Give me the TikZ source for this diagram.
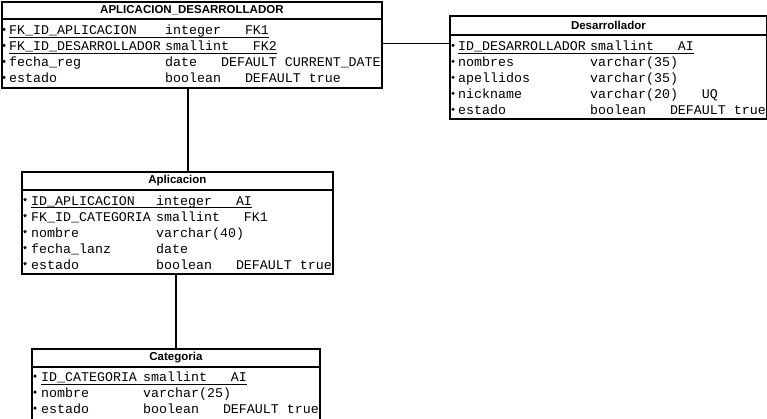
\documentclass[tikz,border=0pt]{standalone}
\usepackage{fontspec}
\setmainfont{Liberation Sans}
\setmonofont{Liberation Mono}
\tikzset{
  tbl/.style={draw, line width=1.8pt, inner sep=0pt, anchor=north west},
  hdr/.style={line width=1.8pt},
  ttl/.style={font=\fontsize{11.5}{13}\selectfont\bfseries, inner sep=0pt},
  fld/.style={font=\fontsize{13.3}{16}\selectfont\ttfamily, inner sep=0pt, anchor=base west},
  ul/.style={line width=0.7pt},
  link/.style={line width=1.8pt},
}
\begin{document}
\begin{tikzpicture}[x=1pt, y=-1pt]
\useasboundingbox (0,0) rectangle (767,418);
\def\bul{1.7pt}
% tablas
\node[tbl, minimum width=380pt, minimum height=86pt]  (apdes) at (1,1) {};
\node[tbl, minimum width=317pt, minimum height=103pt] (desa)  at (449,15) {};
\node[tbl, minimum width=311pt, minimum height=102pt] (apli)  at (21,171) {};
\node[tbl, minimum width=288pt, minimum height=75pt]  (cate)  at (31,348) {};
% cabeceras
\draw[hdr] ([yshift=-18pt]apdes.north west) -- ([yshift=-18pt]apdes.north east);
\draw[hdr] ([yshift=-20pt]desa.north west)  -- ([yshift=-20pt]desa.north east);
\draw[hdr] ([yshift=-19pt]apli.north west)  -- ([yshift=-19pt]apli.north east);
\draw[hdr] ([yshift=-19pt]cate.north west)  -- ([yshift=-19pt]cate.north east);
\node[ttl] (apdes-t) at ([yshift=-9.5pt]apdes.north) {APLICACION\_DESARROLLADOR};
\node[ttl] (desa-t)  at ([yshift=-10pt]desa.north)   {Desarrollador};
\node[ttl] (apli-t)  at ([yshift=-10pt]apli.north)   {Aplicacion};
\node[ttl] (cate-t)  at ([yshift=-10pt]cate.north)   {Categoria};
% APLICACION_DESARROLLADOR
\fill (4,29.3) circle (\bul);
\fill (4,45.3) circle (\bul);
\fill (4,61.3) circle (\bul);
\fill (4,77.3) circle (\bul);
\node[fld] (apdes-n1) at (9,34.7)   {FK\_ID\_APLICACION};
\node[fld] (apdes-d1) at (165,34.7) {integer\ \ \ FK1};
\node[fld] (apdes-n2) at (9,50.7)   {FK\_ID\_DESARROLLADOR};
\node[fld] (apdes-d2) at (165,50.7) {smallint\ \ \ FK2};
\node[fld] (apdes-n3) at (9,66.7)   {fecha\_reg};
\node[fld] (apdes-d3) at (165,66.7) {date\ \ \ DEFAULT CURRENT\_DATE};
\node[fld] (apdes-n4) at (9,82.7)   {estado};
\node[fld] (apdes-d4) at (165,82.7) {boolean\ \ \ DEFAULT true};
\draw[ul] ([yshift=-2.5pt]apdes-n1.base west) -- ([yshift=-2.5pt]apdes-d1.base east);
\draw[ul] ([yshift=-2.5pt]apdes-n2.base west) -- ([yshift=-2.5pt]apdes-d2.base east);
% Desarrollador
\fill (453,45.3)  circle (\bul);
\fill (453,61.3)  circle (\bul);
\fill (453,77.3)  circle (\bul);
\fill (453,93.3)  circle (\bul);
\fill (453,109.3) circle (\bul);
\node[fld] (desa-n1) at (458,50.7)  {ID\_DESARROLLADOR};
\node[fld] (desa-d1) at (590,50.7)  {smallint\ \ \ AI};
\node[fld] (desa-n2) at (458,66.7)  {nombres};
\node[fld] (desa-d2) at (590,66.7)  {varchar(35)};
\node[fld] (desa-n3) at (458,82.7)  {apellidos};
\node[fld] (desa-d3) at (590,82.7)  {varchar(35)};
\node[fld] (desa-n4) at (458,98.7)  {nickname};
\node[fld] (desa-d4) at (590,98.7)  {varchar(20)\ \ \ UQ};
\node[fld] (desa-n5) at (458,114.7) {estado};
\node[fld] (desa-d5) at (590,114.7) {boolean\ \ \ DEFAULT true};
\draw[ul] ([yshift=-2.5pt]desa-n1.base west) -- ([yshift=-2.5pt]desa-d1.base east);
% Aplicacion
\fill (25,199.6) circle (\bul);
\fill (25,215.6) circle (\bul);
\fill (25,231.6) circle (\bul);
\fill (25,247.6) circle (\bul);
\fill (25,263.6) circle (\bul);
\node[fld] (apli-n1) at (31,205) {ID\_APLICACION};
\node[fld] (apli-d1) at (156,205) {integer\ \ \ AI};
\node[fld] (apli-n2) at (31,221) {FK\_ID\_CATEGORIA};
\node[fld] (apli-d2) at (156,221) {smallint\ \ \ FK1};
\node[fld] (apli-n3) at (31,237) {nombre};
\node[fld] (apli-d3) at (156,237) {varchar(40)};
\node[fld] (apli-n4) at (31,253) {fecha\_lanz};
\node[fld] (apli-d4) at (156,253) {date};
\node[fld] (apli-n5) at (31,269) {estado};
\node[fld] (apli-d5) at (156,269) {boolean\ \ \ DEFAULT true};
\draw[ul] ([yshift=-2.5pt]apli-n1.base west) -- ([yshift=-2.5pt]apli-d1.base east);
% Categoria
\fill (35,376.1) circle (\bul);
\fill (35,392.1) circle (\bul);
\fill (35,408.1) circle (\bul);
\node[fld] (cate-n1) at (41,381.5) {ID\_CATEGORIA};
\node[fld] (cate-d1) at (143,381.5) {smallint\ \ \ AI};
\node[fld] (cate-n2) at (41,397.5) {nombre};
\node[fld] (cate-d2) at (143,397.5) {varchar(25)};
\node[fld] (cate-n3) at (41,413.5) {estado};
\node[fld] (cate-d3) at (143,413.5) {boolean\ \ \ DEFAULT true};
\draw[ul] ([yshift=-2.5pt]cate-n1.base west) -- ([yshift=-2.5pt]cate-d1.base east);
% relaciones
\coordinate (y1) at (0,43.5);
\coordinate (x1) at (188,0);
\coordinate (x2) at (176,0);
\draw[link] (apdes.east |- y1) -- (desa.west |- y1);
\draw[link] (apdes.south -| x1) -- (apli.north -| x1);
\draw[link] (apli.south -| x2) -- (cate.north -| x2);
\end{tikzpicture}
\end{document}
